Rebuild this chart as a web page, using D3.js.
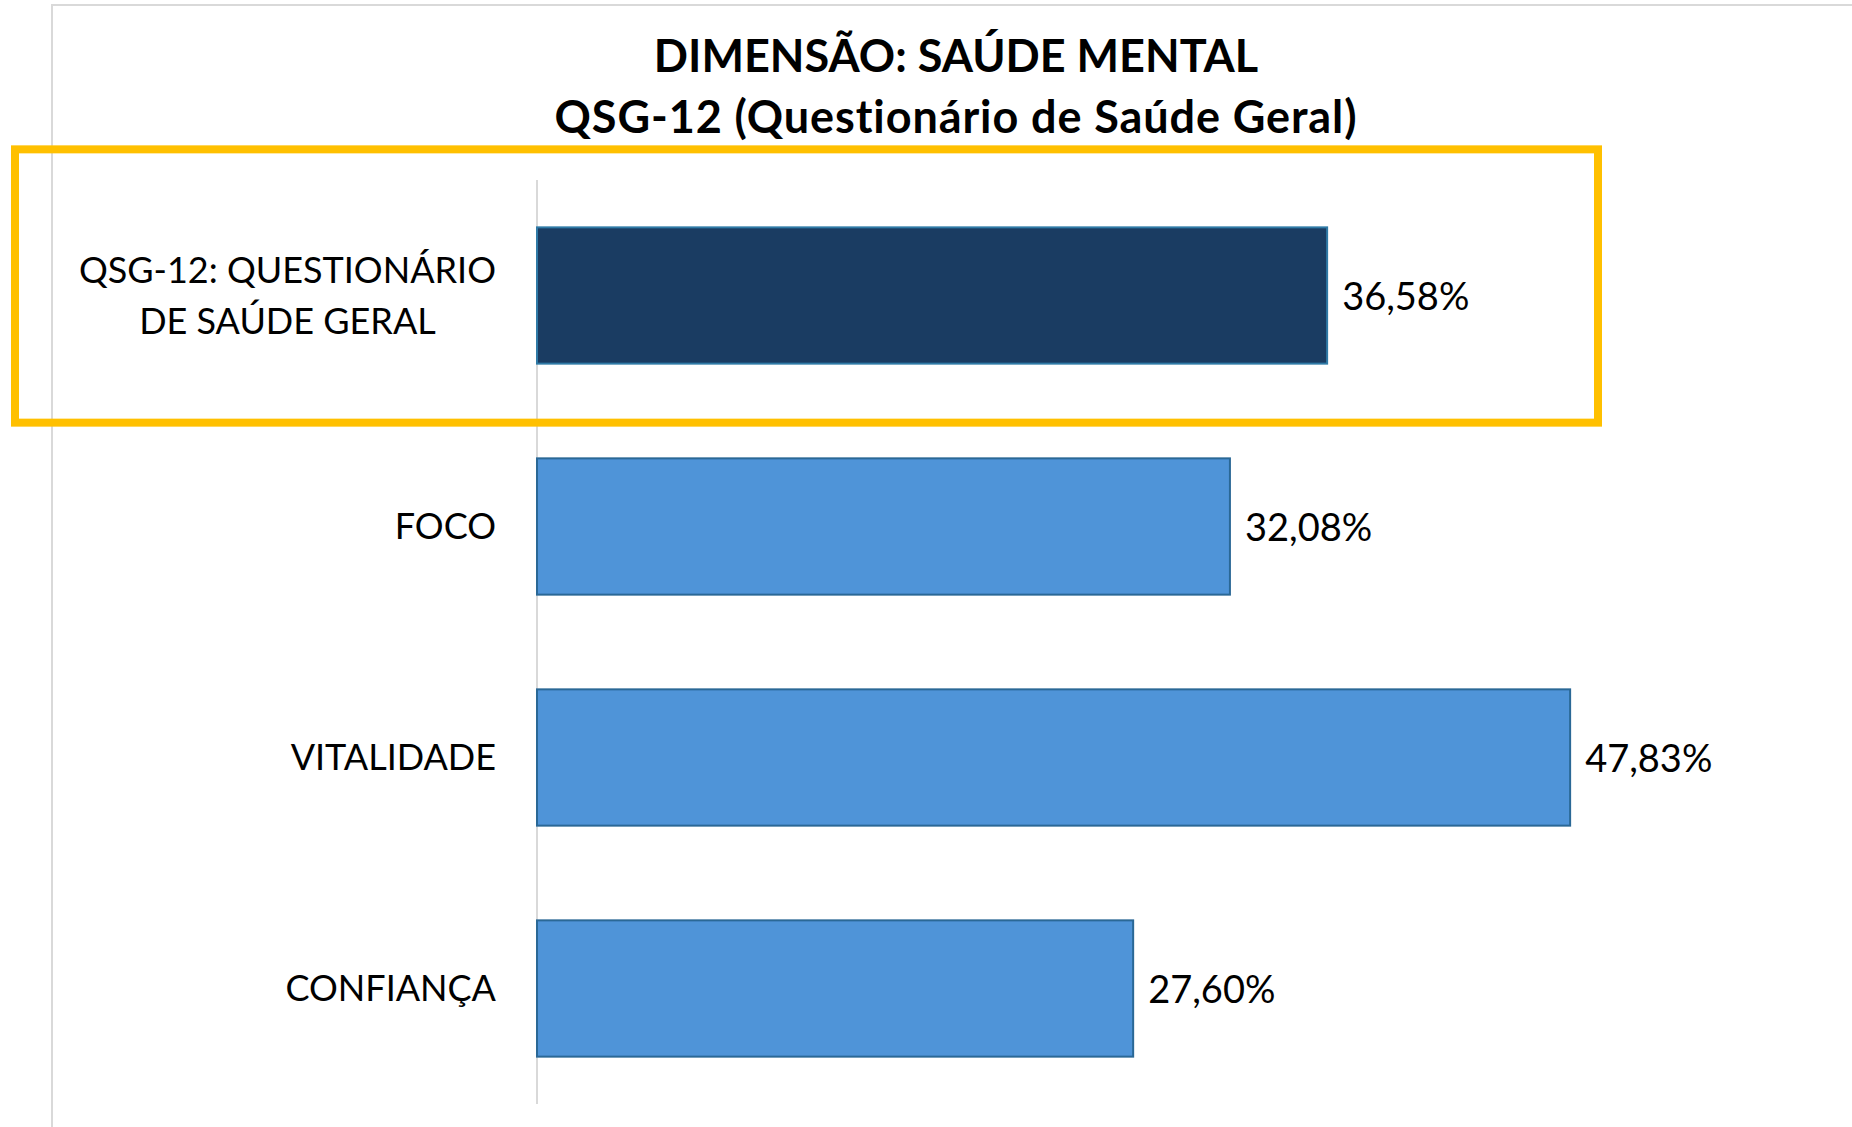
<!DOCTYPE html>
<html>
<head>
<meta charset="utf-8">
<script src="https://cdn.jsdelivr.net/npm/d3@7"></script>
<style>
  body { margin: 0; background: #ffffff; }
  svg { display: block; }
</style>
</head>
<body>
<div id="chart"></div>
<script>
///////////////////////////////////////////////
// Data ///////////////////////////////////////
///////////////////////////////////////////////

var titleLines = ["DIMENSÃO: SAÚDE MENTAL", "QSG-12 (Questionário de Saúde Geral)"];
var categories = ["QSG-12: QUESTIONÁRIO\nDE SAÚDE GERAL", "FOCO", "VITALIDADE", "CONFIANÇA"];
var values = [36.58, 32.08, 47.83, 27.60];
var highlighted = [true, false, false, false];

///////////////////////////////////////////////
// Graph parameters ///////////////////////////
///////////////////////////////////////////////

var width = 1852, height = 1127;
var axisX = 537;
var plotTop = 180, plotBottom = 1104;
var colorDark = "#1a3c62", colorLight = "#4f94d8";
var font = "Lato, 'Open Sans', sans-serif";

var formatPct = function(d) { return d.toFixed(2).replace(".", ",") + "%"; };

var svg = d3.select("#chart").append("svg")
    .attr("width", width)
    .attr("height", height);

svg.append("rect")
    .attr("width", width)
    .attr("height", height)
    .style("fill", "#ffffff");

// outer chart border (only top and left visible)
svg.append("rect")
    .attr("x", 52)
    .attr("y", 5)
    .attr("width", width)
    .attr("height", height + 50)
    .style("fill", "none")
    .style("stroke", "#d9d9d9")
    .style("stroke-width", 2);

///////////////////////////////////////////////
// Scales /////////////////////////////////////
///////////////////////////////////////////////

var x = d3.scaleLinear()
    .domain([0, 60])
    .range([axisX, axisX + 1296]);

var y = d3.scaleBand()
    .domain(categories)
    .range([plotTop, plotBottom])
    .paddingInner(0.41)
    .paddingOuter(0.205);

///////////////////////////////////////////////
// Title //////////////////////////////////////
///////////////////////////////////////////////

svg.append("g").selectAll("text")
    .data(titleLines)
    .enter().append("text")
    .attr("x", 956)
    .attr("y", function(d, i) { return 72 + i * 61; })
    .style("text-anchor", "middle")
    .style("font-family", font)
    .style("font-weight", "bold")
    .style("font-size", "45px")
    .style("letter-spacing", function(d, i) { return i ? "0.9px" : "0px"; })
    .style("fill", "#000000")
    .text(function(d) { return d; });

///////////////////////////////////////////////
// Axis ///////////////////////////////////////
///////////////////////////////////////////////

svg.append("line")
    .attr("x1", axisX)
    .attr("x2", axisX)
    .attr("y1", plotTop)
    .attr("y2", plotBottom)
    .style("stroke", "#d9d9d9")
    .style("stroke-width", 2);

// category labels, right aligned, lines centred on each other
var labelRight = axisX - 41;
var labels = svg.append("g").selectAll("text")
    .data(categories)
    .enter().append("text")
    .style("font-family", font)
    .style("font-size", "36px")
    .style("fill", "#000000");

labels.each(function(d) {
  var t = d3.select(this),
      lines = d.split("\n"),
      cy = y(d) + y.bandwidth() / 2,
      lineH = 51;
  lines.forEach(function(l, i) {
    t.append("tspan")
      .attr("y", cy + (i - (lines.length - 1) / 2) * lineH)
      .attr("dy", "0.36em")
      .text(l);
  });
  var maxW = 0;
  t.selectAll("tspan").each(function() { maxW = Math.max(maxW, this.getComputedTextLength()); });
  t.attr("text-anchor", "middle")
    .selectAll("tspan").attr("x", labelRight - maxW / 2);
});

///////////////////////////////////////////////
// Bars ///////////////////////////////////////
///////////////////////////////////////////////

var rows = categories.map(function(c, i) { return { cat: c, value: values[i], hi: highlighted[i] }; });

svg.append("g").selectAll("rect")
    .data(rows)
    .enter().append("rect")
    .attr("x", x(0))
    .attr("y", function(d) { return y(d.cat); })
    .attr("width", function(d) { return x(d.value) - x(0); })
    .attr("height", y.bandwidth())
    .style("fill", function(d) { return d.hi ? colorDark : colorLight; })
    .style("stroke", function(d) { return d.hi ? "#2f7aa6" : "#2a6896"; })
    .style("stroke-width", 2);

svg.append("g").selectAll("text")
    .data(rows)
    .enter().append("text")
    .attr("x", function(d) { return x(d.value) + 15; })
    .attr("y", function(d) { return y(d.cat) + y.bandwidth() / 2; })
    .attr("dy", "0.38em")
    .style("font-family", font)
    .style("font-size", "38px")
    .style("fill", "#000000")
    .text(function(d) { return formatPct(d.value); });

///////////////////////////////////////////////
// Highlight box //////////////////////////////
///////////////////////////////////////////////

var hiRows = rows.filter(function(d) { return d.hi; });
svg.append("g").selectAll("rect")
    .data(hiRows)
    .enter().append("rect")
    .attr("x", 15)
    .attr("y", function(d) { return y(d.cat) - 78; })
    .attr("width", 1583)
    .attr("height", y.bandwidth() + 78 + 59)
    .style("fill", "none")
    .style("stroke", "#ffc000")
    .style("stroke-width", 8);
</script>
</body>
</html>
